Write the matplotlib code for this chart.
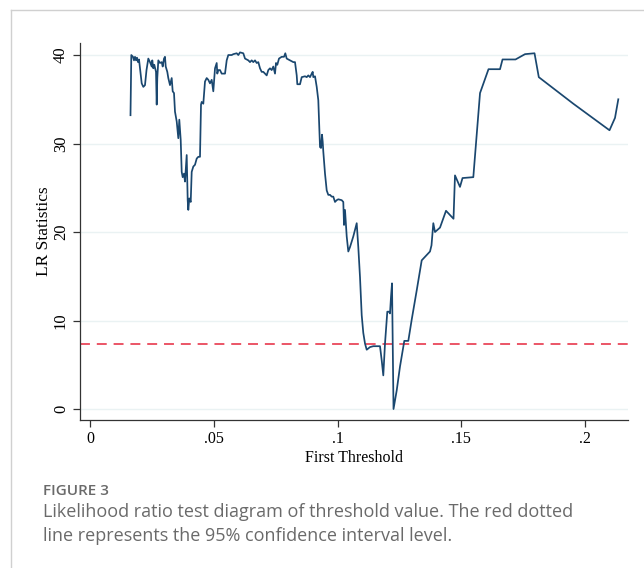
import matplotlib
matplotlib.use("Agg")
import matplotlib.pyplot as plt
from matplotlib.lines import Line2D

# threshold values and LR statistics
threshold = [0.01636, 0.01669, 0.01737, 0.01778, 0.01818, 0.01859, 0.01899, 0.0194, 0.0198,
             0.02089, 0.02154, 0.02222, 0.02283, 0.02356, 0.02424, 0.02493, 0.02517, 0.02558,
             0.02598, 0.02667, 0.02695, 0.02719, 0.0276, 0.02828, 0.02897, 0.02937, 0.0299,
             0.0303, 0.03059, 0.03123, 0.03164, 0.03232, 0.03301, 0.03341, 0.03394, 0.03434,
             0.03503, 0.03568, 0.03608, 0.03665, 0.03705, 0.03745, 0.03798, 0.03838, 0.03907,
             0.03947, 0.03972, 0.04012, 0.04069, 0.04109, 0.04174, 0.04242, 0.04311, 0.04376,
             0.04444, 0.04485, 0.04513, 0.04578, 0.04646, 0.04715, 0.0478, 0.04848, 0.04917,
             0.04982, 0.05051, 0.05119, 0.05143, 0.05184, 0.05253, 0.05321, 0.05386, 0.05455,
             0.05523, 0.05588, 0.05725, 0.0579, 0.05927, 0.05992, 0.06061, 0.06194, 0.06263,
             0.06396, 0.06465, 0.06533, 0.06598, 0.06667, 0.06735, 0.068, 0.06869, 0.06937,
             0.07002, 0.07071, 0.07139, 0.07204, 0.07273, 0.07341, 0.07406, 0.07475, 0.07515,
             0.07568, 0.07636, 0.07745, 0.07838, 0.07891, 0.07947, 0.08081, 0.08214, 0.08283,
             0.08352, 0.08376, 0.08485, 0.08554, 0.08687, 0.08756, 0.0882, 0.08889, 0.08958,
             0.08998, 0.09022, 0.09091, 0.0916, 0.09224, 0.09265, 0.09293, 0.09333, 0.09374,
             0.09402, 0.09426, 0.09495, 0.09564, 0.09628, 0.09697, 0.09766, 0.0983, 0.09899,
             0.09968, 0.10032, 0.10169, 0.10234, 0.10263, 0.10303, 0.10372, 0.10436, 0.10505,
             0.10638, 0.10776, 0.1084, 0.10909, 0.10978, 0.11042, 0.11111, 0.1118, 0.11313,
             0.11447, 0.11717, 0.11786, 0.1185, 0.11919, 0.12012, 0.12081, 0.12121, 0.12162,
             0.12202, 0.12263, 0.12392, 0.12525, 0.12699, 0.12861, 0.12998, 0.132, 0.13402,
             0.13604, 0.13737, 0.13798, 0.13871, 0.13939, 0.14141, 0.14384, 0.14687, 0.14747,
             0.14949, 0.15051, 0.15487, 0.15758, 0.16101, 0.16566, 0.16667, 0.17192, 0.17576,
             0.1796, 0.18133, 0.19527, 0.2099, 0.21212, 0.21345]
lr_stat = [33.2, 40.0, 39.8, 39.4, 39.8, 39.4, 39.7, 39.2, 39.5,
           36.8, 36.4, 36.6, 38.3, 39.6, 39.2, 38.7, 39.4, 38.5,
           38.9, 38.1, 34.4, 37.4, 39.4, 39.1, 39.2, 38.7, 39.6,
           39.8, 38.7, 38.1, 37.4, 36.6, 37.4, 35.9, 35.7, 33.6,
           32.5, 30.6, 32.7, 30.4, 26.8, 26.2, 26.6, 25.7, 28.7,
           23.6, 22.5, 23.8, 23.4, 26.8, 27.4, 27.6, 28.3, 28.5,
           28.5, 34.4, 34.7, 34.5, 37.0, 37.4, 37.2, 36.8, 37.2,
           35.9, 38.5, 39.1, 37.9, 38.3, 38.3, 37.9, 37.9, 37.9,
           39.4, 40.0, 40.0, 40.1, 40.2, 40.0, 40.3, 40.2, 39.6,
           39.4, 39.2, 39.4, 39.2, 39.4, 39.1, 39.2, 38.5, 38.1,
           38.1, 37.9, 37.7, 38.3, 38.5, 38.3, 38.7, 37.9, 39.1,
           38.9, 39.6, 39.8, 39.8, 40.2, 39.6, 39.4, 39.2, 39.2,
           37.7, 36.7, 36.7, 37.5, 37.6, 37.5, 37.7, 37.5, 37.9,
           38.1, 37.5, 37.6, 36.4, 34.9, 31.9, 29.6, 29.5, 31.0,
           30.2, 29.1, 26.6, 24.7, 24.2, 24.2, 24.0, 24.0, 23.4,
           23.6, 23.7, 23.6, 23.4, 20.8, 22.5, 19.5, 17.8, 18.3,
           19.5, 21.0, 18.3, 14.9, 10.6, 8.6, 7.4, 6.7, 7.0,
           7.1, 7.1, 5.5, 3.8, 7.4, 11.0, 11.0, 10.8, 12.7,
           14.2, 0.0, 2.1, 4.8, 7.7, 7.7, 10.1, 13.4, 16.8,
           17.4, 17.8, 18.5, 21.0, 20.0, 20.5, 22.4, 21.5, 26.4,
           25.1, 26.1, 26.2, 35.7, 38.4, 38.4, 39.5, 39.5, 40.1,
           40.2, 37.5, 34.5, 31.5, 32.9, 35.0]
critical_value = 7.35

xticks = [0, 0.05, 0.1, 0.15, 0.2]
xtick_labels = ["0", ".05", ".1", ".15", ".2"]
yticks = [0, 10, 20, 30, 40]

serif = "Liberation Serif"

fig = plt.figure(figsize=(6.44, 5.68), dpi=100)
ax = fig.add_axes([80 / 644, 1 - 420 / 568, 548 / 644, 377 / 568])

for yt in yticks:
    ax.axhline(yt, color="#eaf2f3", lw=1.0, zorder=0)

ax.plot(threshold, lr_stat, color="#1a476f", lw=1.25, zorder=3)
ax.axhline(critical_value, color="#e6273d", lw=1.1, dashes=(6.5, 4.5), zorder=2)

ax.set_xlim(-0.00404, 0.21737)
ax.set_ylim(-1.24, 41.36)
ax.set_xticks(xticks)
ax.set_xticklabels(xtick_labels, fontfamily=serif, fontsize=11.5)
ax.set_yticks(yticks)
ax.set_yticklabels([str(v) for v in yticks], fontfamily=serif, fontsize=12,
                   rotation=90, va="center")
ax.tick_params(axis="both", direction="out", length=5, width=0.9, color="#333333",
               labelcolor="black", pad=3)
ax.set_xlabel("First Threshold", fontfamily=serif, fontsize=11.5, labelpad=2)
ax.set_ylabel("LR Statistics", fontfamily=serif, fontsize=12.5, labelpad=1)

for side in ["top", "right"]:
    ax.spines[side].set_visible(False)
for side in ["left", "bottom"]:
    ax.spines[side].set_color("#333333")
    ax.spines[side].set_linewidth(0.9)

# card frame
fig.add_artist(Line2D([11 / 644, 11 / 644], [0, 1 - 10 / 568], color="#d0d0d0", lw=1.0))
fig.add_artist(Line2D([11 / 644, 1], [1 - 10 / 568, 1 - 10 / 568], color="#d0d0d0", lw=1.0))

fig.text(43 / 644, 1 - 491 / 568, "FIGURE 3", fontfamily="Open Sans", fontsize=11,
         fontweight="semibold", color="#6a6a6a", va="center")
fig.text(43 / 644, 1 - 512 / 568,
         "Likelihood ratio test diagram of threshold value. The red dotted",
         fontfamily="Open Sans", fontsize=13, color="#6a6a6a", va="center")
fig.text(43 / 644, 1 - 536 / 568,
         "line represents the 95% confidence interval level.",
         fontfamily="Open Sans", fontsize=13, color="#6a6a6a", va="center")

fig.savefig("out.png", dpi=100)
